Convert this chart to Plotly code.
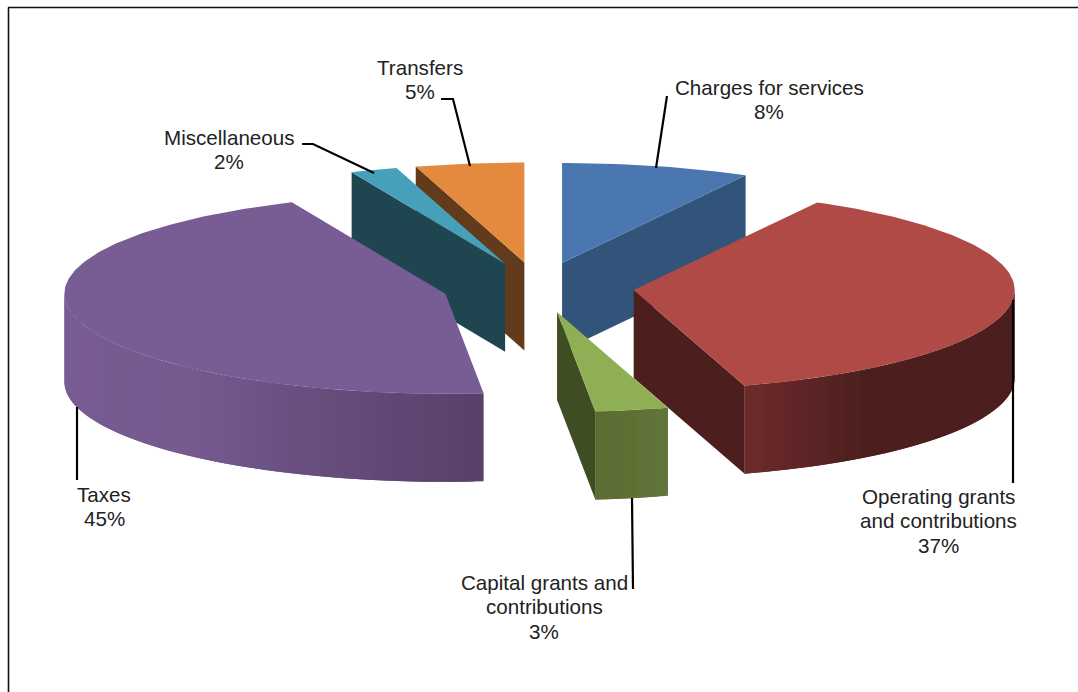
import numpy as np
import plotly.graph_objects as go

# ---- data ----
categories = ["Charges for services", "Operating grants and contributions",
              "Capital grants and contributions", "Taxes", "Miscellaneous", "Transfers"]
shares = [8.0, 37.3, 3.1, 45.0, 2.0, 4.6]

# ---- styles ----
top_colors = ["#4A77AF", "#B04A46", "#8FAF54", "#785C94", "#46A0BA", "#E48A3E"]
cut_colors = ["#33547A", "#4C1F1E", "#3F4D22", "#584068", "#1F4550", "#623A1C"]
# outer wall shade by angle (clockwise from 12 o'clock): (angle, colour)
wall_stops = {
    0: [(90, (51, 84, 122)), (180, (51, 84, 122))],
    1: [(90, (76, 31, 30)), (143, (76, 31, 30)), (163.2, (110, 42, 44))],
    2: [(163, (98, 118, 58)), (174.3, (90, 108, 49))],
    3: [(174, (88, 64, 106)), (190, (97, 72, 118)), (205, (106, 81, 130)), (222, (117, 90, 144)), (270, (120, 92, 148))],
    4: [(90, (31, 69, 80)), (270, (31, 69, 80))],
    5: [(90, (98, 58, 28)), (270, (98, 58, 28))],
}
paint_order = [5, 4, 0, 1, 3, 2]

# ---- pie geometry (plot units equal screen pixels) ----
cx, cy = 538.2, 287.4
rx, ry = 381.0, 100.0
explode = 96.0
depth = 88.0


def ell(theta_deg, r_x=rx, r_y=ry):
    t = np.radians(theta_deg)
    return r_x * np.sin(t), -r_y * np.cos(t)


total = sum(shares)
edges = np.concatenate([[0], np.cumsum(shares)]) * 360.0 / total

fig = go.Figure()


def poly(xs, ys, color, name):
    fig.add_trace(go.Scatter(
        x=list(xs), y=list(ys), mode="lines", fill="toself", fillcolor=color,
        line=dict(color=color, width=0), hoverinfo="text", text=name,
        showlegend=False))


def shade(i, theta):
    stops = wall_stops[i]
    ang = [s[0] for s in stops]
    rgb = [np.interp(theta, ang, [s[1][c] for s in stops]) for c in range(3)]
    return "rgb(%d,%d,%d)" % tuple(round(v) for v in rgb)


for i in paint_order:
    a, b = edges[i], edges[i + 1]
    mid = (a + b) / 2
    ox, oy = ell(mid, explode, explode * ry / rx)
    ax, ay = cx + ox, cy + oy
    name = categories[i]
    # visible cut faces
    for theta, visible in ((a, np.sin(np.radians(a)) < -1e-6), (b, np.sin(np.radians(b)) > 1e-6)):
        if visible:
            ex, ey = ell(theta)
            poly([ax, ax + ex, ax + ex, ax, ax], [ay, ay + ey, ay + ey + depth, ay + depth, ay],
                 cut_colors[i], name)
    # outer wall (front half only), drawn as overlapping shaded strips
    lo, hi = max(a, 90), min(b, 270)
    if hi > lo:
        ts = np.linspace(lo, hi, max(3, int((hi - lo) / 1.5) + 1))
        for k in range(len(ts) - 1):
            seg = ts[k:k + 3]
            ex, ey = ell(seg)
            px = np.concatenate([ax + ex, (ax + ex)[::-1]])
            py = np.concatenate([ay + ey, (ay + ey + depth)[::-1]])
            poly(np.append(px, px[0]), np.append(py, py[0]), shade(i, ts[k] + (ts[1] - ts[0]) / 2), name)
    # top face
    ts = np.linspace(a, b, max(3, int(b - a) + 2))
    ex, ey = ell(ts)
    poly(np.concatenate([[ax], ax + ex, [ax]]), np.concatenate([[ay], ay + ey, [ay]]),
         top_colors[i], name)

# ---- leader lines ----
leader_x = [[667, 656], [1013, 1013], [632, 633], [77, 77], [302, 313, 374], [441, 453, 470]]
leader_y = [[96, 168], [300, 483], [498, 589], [407, 480], [144, 144, 173], [99, 99, 166]]
for lx, ly in zip(leader_x, leader_y):
    fig.add_trace(go.Scatter(x=lx, y=ly, mode="lines", line=dict(color="#000000", width=2.2),
                             hoverinfo="skip", showlegend=False))

# ---- labels ----
label_lines = [["Charges for services"], ["Operating grants", "and contributions"],
               ["Capital grants and", "contributions"], ["Taxes"], ["Miscellaneous"], ["Transfers"]]
label_x = [769, 938.5, 544, 104, 229, 420]
label_y = [87.2, 496.2, 582.2, 494.2, 137.2, 67.2]
line_step = 24.4
for i, lines in enumerate(label_lines):
    pct = f"{round(shares[i] / total * 100)}%"
    for j, txt in enumerate(lines + [pct]):
        fig.add_annotation(x=label_x[i], y=label_y[i] + j * line_step, text=txt, showarrow=False,
                           xanchor="center", yanchor="middle",
                           font=dict(family="Liberation Sans, Arial, sans-serif", size=20.6, color="#222222"))

fig.update_layout(
    width=1078, height=692, autosize=False,
    margin=dict(l=0, r=0, t=0, b=0),
    paper_bgcolor="white", plot_bgcolor="white", showlegend=False,
    xaxis=dict(range=[0, 1078], visible=False, fixedrange=True),
    yaxis=dict(range=[692, 0], visible=False, fixedrange=True),
    shapes=[
        dict(type="line", xref="x", yref="y", x0=8, x1=1078, y0=7.5, y1=7.5, line=dict(color="#111111", width=1.6)),
        dict(type="line", xref="x", yref="y", x0=8.5, x1=8.5, y0=7.5, y1=692, line=dict(color="#111111", width=1.6)),
    ],
)
fig.write_html("out.html", config=dict(displayModeBar=False),
               post_script="document.body.style.margin='0';document.body.style.overflow='hidden';")
